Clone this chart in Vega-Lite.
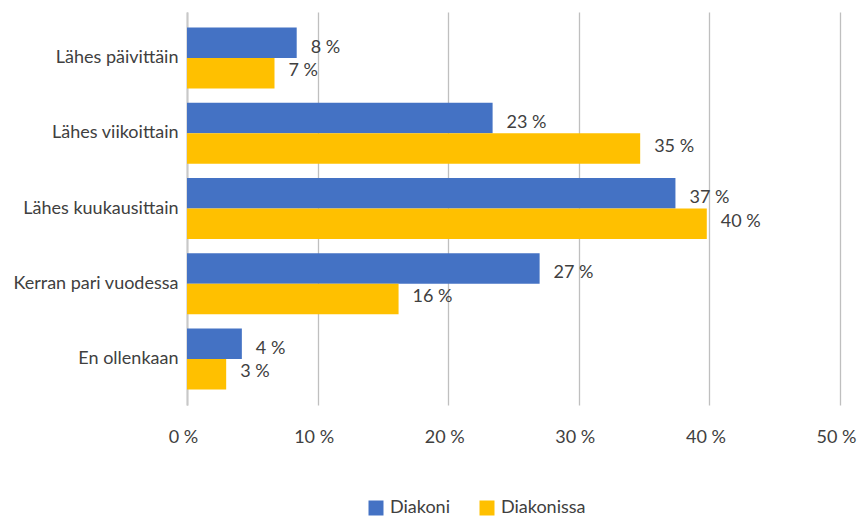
{
  "$schema": "https://vega.github.io/schema/vega-lite/v6.json",
  "width": 653,
  "height": 393,
  "autosize": {"type": "none"},
  "padding": {"left": 187, "top": 12, "right": 18, "bottom": 112},
  "background": "white",
  "config": {"view": {"stroke": null}, "font": "Lato"},
  "data": {
    "values": [
      {"category": "Lähes päivittäin", "series": "Diakoni", "value": 8.4},
      {"category": "Lähes päivittäin", "series": "Diakonissa", "value": 6.7},
      {"category": "Lähes viikoittain", "series": "Diakoni", "value": 23.4},
      {"category": "Lähes viikoittain", "series": "Diakonissa", "value": 34.7},
      {"category": "Lähes kuukausittain", "series": "Diakoni", "value": 37.4},
      {"category": "Lähes kuukausittain", "series": "Diakonissa", "value": 39.8},
      {"category": "Kerran pari vuodessa", "series": "Diakoni", "value": 27.0},
      {"category": "Kerran pari vuodessa", "series": "Diakonissa", "value": 16.2},
      {"category": "En ollenkaan", "series": "Diakoni", "value": 4.2},
      {"category": "En ollenkaan", "series": "Diakonissa", "value": 3.0}
    ]
  },
  "transform": [{"calculate": "format(datum.value, '.0f') + ' %'", "as": "label"}],
  "encoding": {
    "y": {
      "field": "category",
      "type": "nominal",
      "sort": null,
      "scale": {"paddingInner": 0.189, "paddingOuter": 0.206},
      "axis": {
        "title": null,
        "ticks": false,
        "domain": true,
        "domainColor": "#c8c8c8",
        "domainWidth": 2,
        "labelPadding": 9,
        "labelFontSize": 18,
        "labelColor": "#404040",
        "labelFont": "Lato"
      }
    },
    "yOffset": {
      "field": "series",
      "type": "nominal",
      "scale": {"paddingInner": 0, "paddingOuter": 0}
    },
    "x": {
      "field": "value",
      "type": "quantitative",
      "scale": {"domain": [0, 50], "nice": false},
      "axis": {
        "title": null,
        "values": [0, 10, 20, 30, 40, 50],
        "labelExpr": "datum.value + ' %'",
        "labelFlush": false,
        "labelOffset": -4,
        "labelBound": false,
        "ticks": false,
        "domain": false,
        "grid": true,
        "gridColor": "#bfbfbf",
        "gridWidth": 1.3,
        "labelPadding": 23,
        "labelFontSize": 18,
        "labelColor": "#404040",
        "labelFont": "Lato"
      }
    }
  },
  "layer": [
    {
      "mark": {"type": "bar"},
      "encoding": {
        "color": {
          "field": "series",
          "type": "nominal",
          "scale": {"domain": ["Diakoni", "Diakonissa"], "range": ["#4472C4", "#FFC000"]},
          "legend": {
            "title": null,
            "orient": "none",
            "legendX": 180,
            "legendY": 487,
            "direction": "horizontal",
            "symbolType": "square",
            "symbolSize": 225,
            "symbolStrokeWidth": 0,
            "labelFontSize": 18,
            "labelColor": "#404040",
            "labelFont": "Lato",
            "labelOffset": 5,
            "columnPadding": 28
          }
        }
      }
    },
    {
      "transform": [{"filter": "datum.series === 'Diakoni'"}],
      "mark": {"type": "text", "align": "left", "baseline": "middle", "dx": 14, "dy": 5, "fontSize": 18, "color": "#404040", "font": "Lato"},
      "encoding": {"text": {"field": "label"}}
    },
    {
      "transform": [{"filter": "datum.series === 'Diakonissa'"}],
      "mark": {"type": "text", "align": "left", "baseline": "middle", "dx": 14, "dy": -2, "fontSize": 18, "color": "#404040", "font": "Lato"},
      "encoding": {"text": {"field": "label"}}
    }
  ]
}
